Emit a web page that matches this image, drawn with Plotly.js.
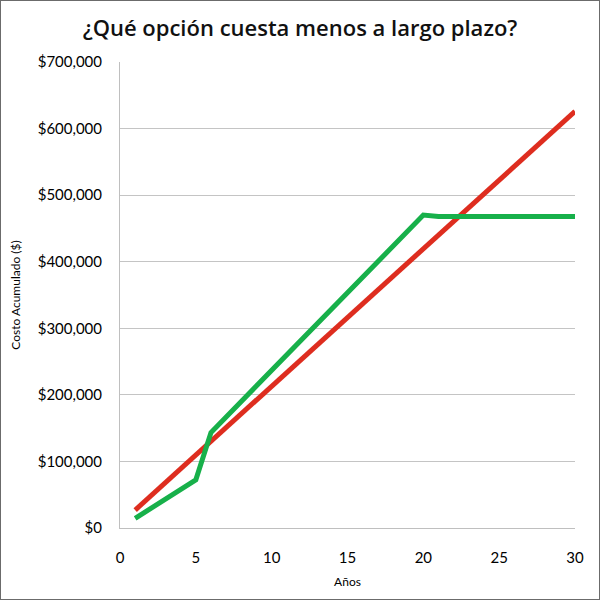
<!DOCTYPE html>
<html>
<head>
<meta charset="utf-8">
<script src="https://cdn.plot.ly/plotly-3.0.1.min.js"></script>
<style>
  html, body { margin: 0; padding: 0; background: #fff; }
  #chart { width: 600px; height: 600px; box-sizing: border-box; border: 1px solid #6b6b6b; }
</style>
</head>
<body>
<div id="chart"></div>
<script>
// Años
const years = [1, 2, 3, 4, 5, 6, 7, 8, 9, 10, 11, 12, 13, 14, 15,
               16, 17, 18, 19, 20, 21, 22, 23, 24, 25, 26, 27, 28, 29, 30];

// Costo acumulado, opción roja
const redCost = [27000, 47700, 68300, 89000, 109600, 130300, 150900, 171600, 192200, 212900,
                 233500, 254200, 274800, 295500, 316100, 336800, 357400, 378100, 398700, 419400,
                 440000, 460700, 481300, 502000, 522600, 543300, 563900, 584600, 605200, 625900];

// Costo acumulado, opción verde
const greenCost = [14500, 29000, 43500, 58000, 72400, 143500, 166800, 190100, 213400, 236800,
                   260100, 283400, 306700, 330000, 353300, 376600, 399900, 423200, 446600, 470000,
                   468000, 468000, 468000, 468000, 468000, 468000, 468000, 468000, 468000, 468000];

const font = 'Lato, "Noto Sans", "Open Sans", sans-serif';

const traces = [
  {
    x: years, y: redCost, type: 'scatter', mode: 'lines',
    line: { color: '#de2d1f', width: 5 }, hoverinfo: 'skip'
  },
  {
    x: years, y: greenCost, type: 'scatter', mode: 'lines',
    line: { color: '#17b04a', width: 5 }, hoverinfo: 'skip'
  }
];

const layout = {
  width: 598,
  height: 598,
  margin: { l: 119, r: 24, t: 61, b: 71 },
  paper_bgcolor: '#fff',
  plot_bgcolor: '#fff',
  showlegend: false,
  font: { family: font, color: '#000', size: 14 },
  title: {
    text: '¿Qué opción cuesta menos a largo plazo?',
    font: { family: '"Open Sans", sans-serif', size: 22, weight: 600, color: '#111' },
    x: 0.5, xanchor: 'center', y: 0.955, yanchor: 'middle'
  },
  xaxis: {
    range: [0, 30],
    dtick: 5,
    showgrid: false,
    zeroline: false,
    showline: true,
    linecolor: '#bfbfbf',
    linewidth: 1,
    ticks: '',
    ticklabelstandoff: 16,
    tickfont: { size: 15 },
    title: { text: 'Años', font: { size: 12 }, standoff: 12 },
    fixedrange: true
  },
  yaxis: {
    range: [0, 700000],
    dtick: 100000,
    tickprefix: '$',
    tickformat: ',d',
    showgrid: true,
    gridcolor: '#c4c4c4',
    gridwidth: 1,
    zeroline: false,
    showline: true,
    linecolor: '#bfbfbf',
    linewidth: 1,
    ticks: '',
    ticklabelstandoff: 14,
    tickfont: { size: 15 },
    title: { text: 'Costo Acumulado ($)', font: { size: 12 }, standoff: 14 },
    fixedrange: true
  }
};

Plotly.newPlot('chart', traces, layout, { displayModeBar: false, staticPlot: true });
</script>
</body>
</html>
